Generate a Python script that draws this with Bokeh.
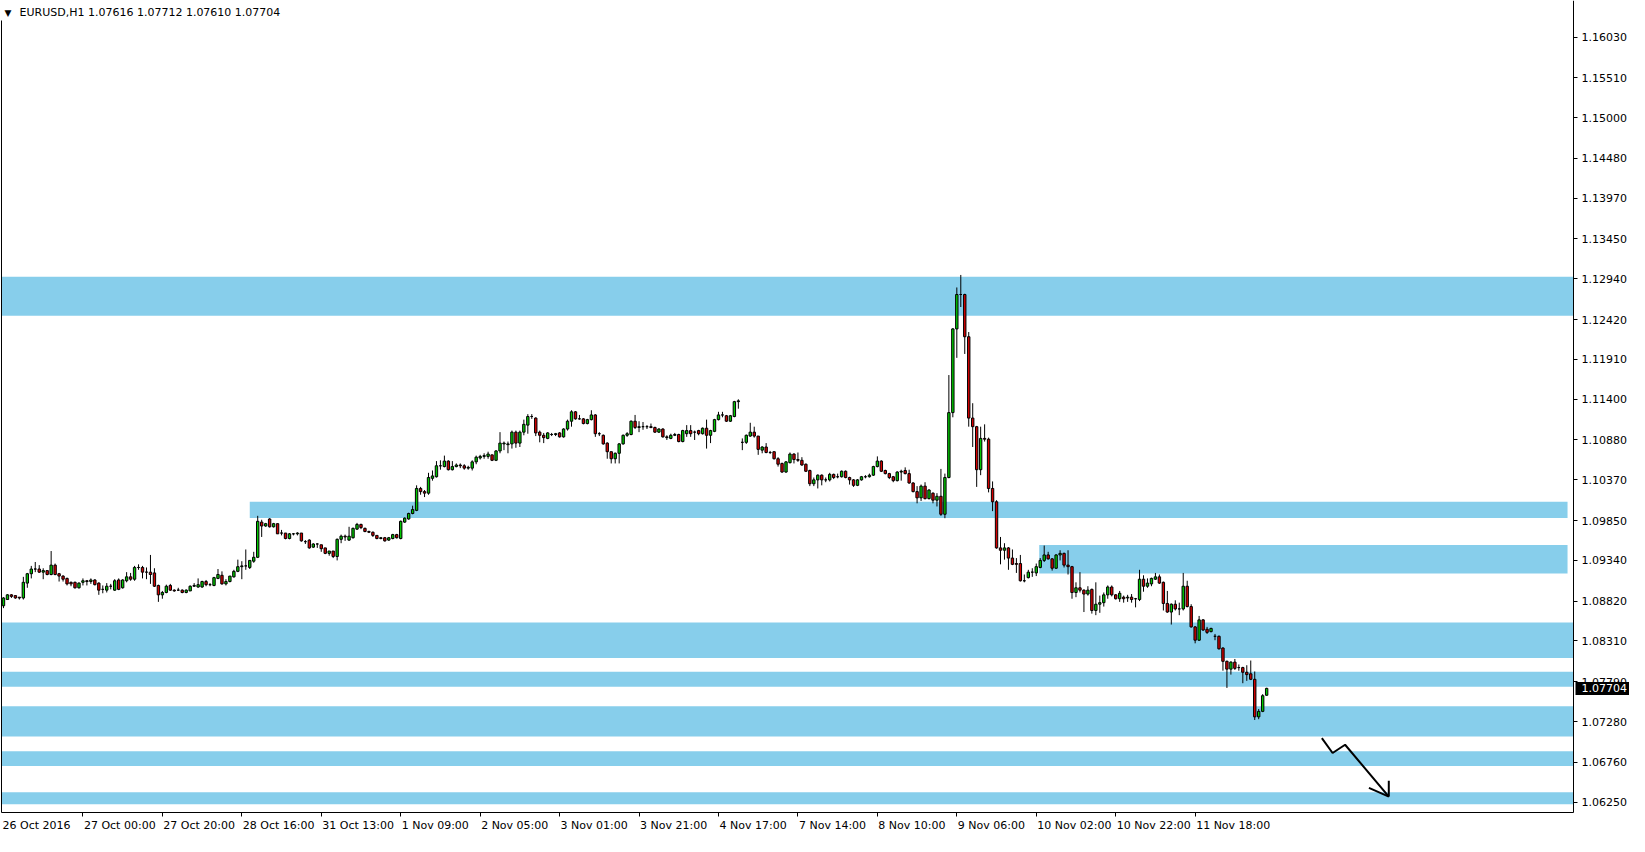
from bokeh.plotting import figure
from bokeh.models import (Range1d, FixedTicker, PrintfTickFormatter, Label, LinearAxis,
                          ColumnDataSource)
from bokeh.embed import file_html
from bokeh.resources import INLINE
from bokeh.core.properties import value

symbol = "EURUSD,H1"

opens = [
    1.0876, 1.0884, 1.0890, 1.0889, 1.0887, 1.0886, 1.0905, 1.0917, 1.0923, 1.0923,
    1.0919, 1.0921, 1.0916, 1.0928, 1.0917, 1.0914, 1.0911, 1.0906, 1.0906, 1.0899,
    1.0906, 1.0908, 1.0907, 1.0909, 1.0905, 1.0897, 1.0896, 1.0901, 1.0896, 1.0909,
    1.0899, 1.0908, 1.0913, 1.0910, 1.0925, 1.0925, 1.0919, 1.0919, 1.0918, 1.0902,
    1.0890, 1.0893, 1.0902, 1.0896, 1.0896, 1.0896, 1.0893, 1.0895, 1.0901, 1.0900,
    1.0900, 1.0907, 1.0903, 1.0902, 1.0911, 1.0915, 1.0904, 1.0907, 1.0913, 1.0920,
    1.0926, 1.0927, 1.0925, 1.0933, 1.0938, 1.0983, 1.0978, 1.0987, 1.0977, 1.0981,
    1.0969, 1.0969, 1.0962, 1.0968, 1.0968, 1.0969, 1.0958, 1.0960, 1.0951, 1.0955,
    1.0954, 1.0950, 1.0943, 1.0946, 1.0939, 1.0961, 1.0965, 1.0960, 1.0963, 1.0974,
    1.0980, 1.0975, 1.0971, 1.0970, 1.0966, 1.0962, 1.0963, 1.0960, 1.0962, 1.0967,
    1.0962, 1.0983, 1.0987, 1.0994, 1.0998, 1.1026, 1.1022, 1.1020, 1.1039, 1.1041,
    1.1055, 1.1054, 1.1061, 1.1050, 1.1054, 1.1056, 1.1055, 1.1052, 1.1052, 1.1060,
    1.1065, 1.1067, 1.1067, 1.1069, 1.1062, 1.1074, 1.1083, 1.1082, 1.1083, 1.1098,
    1.1084, 1.1098, 1.1107, 1.1118, 1.1116, 1.1098, 1.1094, 1.1090, 1.1095, 1.1095,
    1.1097, 1.1092, 1.1102, 1.1112, 1.1124, 1.1115, 1.1115, 1.1109, 1.1114, 1.1120,
    1.1096, 1.1094, 1.1084, 1.1073, 1.1064, 1.1071, 1.1083, 1.1094, 1.1095, 1.1112,
    1.1104, 1.1105, 1.1105, 1.1105, 1.1104, 1.1098, 1.1102, 1.1092, 1.1090, 1.1094,
    1.1095, 1.1086, 1.1096, 1.1100, 1.1098, 1.1100, 1.1096, 1.1103, 1.1094, 1.1099,
    1.1114, 1.1120, 1.1119, 1.1112, 1.1118, 1.1137, 1.1085, 1.1085, 1.1093, 1.1098,
    1.1093, 1.1075, 1.1079, 1.1072, 1.1073, 1.1064, 1.1058, 1.1047, 1.1059, 1.1070,
    1.1063, 1.1062, 1.1057, 1.1049, 1.1032, 1.1037, 1.1043, 1.1037, 1.1037, 1.1044,
    1.1041, 1.1041, 1.1048, 1.1040, 1.1037, 1.1030, 1.1037, 1.1041, 1.1041, 1.1043,
    1.1054, 1.1061, 1.1049, 1.1045, 1.1041, 1.1036, 1.1047, 1.1049, 1.1045, 1.1033,
    1.1022, 1.1014, 1.1029, 1.1013, 1.1020, 1.1011, 1.1016, 1.0993, 1.1040, 1.1123,
    1.1230, 1.1274, 1.1274, 1.1220, 1.1116, 1.1105, 1.1050, 1.1090, 1.1089, 1.1026,
    1.1009, 1.0950, 1.0947, 1.0950, 1.0937, 1.0930, 1.0930, 1.0908, 1.0912, 1.0919,
    1.0918, 1.0925, 1.0934, 1.0941, 1.0936, 1.0924, 1.0941, 1.0943, 1.0928, 1.0926,
    1.0893, 1.0899, 1.0896, 1.0891, 1.0897, 1.0870, 1.0878, 1.0880, 1.0890, 1.0900,
    1.0890, 1.0885, 1.0887, 1.0886, 1.0887, 1.0885, 1.0884, 1.0910, 1.0901, 1.0904,
    1.0910, 1.0913, 1.0906, 1.0879, 1.0868, 1.0878, 1.0872, 1.0872, 1.0901, 1.0875,
    1.0849, 1.0832, 1.0858, 1.0846, 1.0843, 1.0837, 1.0837, 1.0822, 1.0805, 1.0795,
    1.0804, 1.0797, 1.0797, 1.0791, 1.0789, 1.0782, 1.0734, 1.0741, 1.07616,
]

highs = [
    1.0887, 1.0891, 1.0891, 1.0889, 1.0887, 1.0913, 1.0918, 1.0927, 1.0932, 1.0928,
    1.0924, 1.0921, 1.0946, 1.0930, 1.0918, 1.0915, 1.0912, 1.0907, 1.0907, 1.0906,
    1.0911, 1.0909, 1.0911, 1.0910, 1.0906, 1.0902, 1.0905, 1.0904, 1.0910, 1.0911,
    1.0910, 1.0919, 1.0918, 1.0927, 1.0929, 1.0927, 1.0925, 1.0941, 1.0924, 1.0903,
    1.0895, 1.0903, 1.0904, 1.0897, 1.0899, 1.0897, 1.0897, 1.0902, 1.0905, 1.0911,
    1.0908, 1.0909, 1.0905, 1.0913, 1.0923, 1.0920, 1.0910, 1.0914, 1.0922, 1.0935,
    1.0933, 1.0948, 1.0934, 1.0945, 1.0991, 1.0986, 1.0982, 1.0988, 1.0982, 1.0981,
    1.0973, 1.0969, 1.0969, 1.0969, 1.0970, 1.0969, 1.0960, 1.0961, 1.0956, 1.0956,
    1.0954, 1.0950, 1.0946, 1.0946, 1.0962, 1.0967, 1.0967, 1.0977, 1.0976, 1.0982,
    1.0981, 1.0976, 1.0972, 1.0971, 1.0966, 1.0964, 1.0964, 1.0964, 1.0968, 1.0968,
    1.0985, 1.0989, 1.0995, 1.1004, 1.1030, 1.1028, 1.1024, 1.1046, 1.1049, 1.1061,
    1.1062, 1.1068, 1.1062, 1.1061, 1.1058, 1.1058, 1.1057, 1.1055, 1.1062, 1.1068,
    1.1069, 1.1071, 1.1073, 1.1069, 1.1075, 1.1098, 1.1086, 1.1086, 1.1100, 1.1100,
    1.1100, 1.1114, 1.1121, 1.1121, 1.1117, 1.1100, 1.1097, 1.1098, 1.1097, 1.1097,
    1.1098, 1.1103, 1.1114, 1.1126, 1.1125, 1.1120, 1.1116, 1.1115, 1.1126, 1.1121,
    1.1098, 1.1095, 1.1085, 1.1073, 1.1072, 1.1084, 1.1095, 1.1098, 1.1113, 1.1120,
    1.1112, 1.1111, 1.1107, 1.1109, 1.1105, 1.1103, 1.1103, 1.1094, 1.1096, 1.1097,
    1.1096, 1.1101, 1.1107, 1.1107, 1.1100, 1.1101, 1.1104, 1.1114, 1.1101, 1.1115,
    1.1124, 1.1124, 1.1120, 1.1120, 1.1138, 1.1140, 1.1090, 1.1095, 1.1110, 1.1105,
    1.1093, 1.1080, 1.1084, 1.1074, 1.1073, 1.1066, 1.1059, 1.1061, 1.1072, 1.1071,
    1.1072, 1.1066, 1.1058, 1.1050, 1.1040, 1.1044, 1.1044, 1.1040, 1.1046, 1.1045,
    1.1045, 1.1049, 1.1049, 1.1041, 1.1038, 1.1038, 1.1042, 1.1043, 1.1045, 1.1055,
    1.1067, 1.1062, 1.1050, 1.1046, 1.1042, 1.1048, 1.1050, 1.1053, 1.1050, 1.1034,
    1.1029, 1.1031, 1.1034, 1.1025, 1.1021, 1.1020, 1.1051, 1.1045, 1.1171, 1.1231,
    1.1283, 1.1299, 1.1275, 1.1226, 1.1135, 1.1106, 1.1105, 1.1108, 1.1091, 1.1035,
    1.1011, 1.0964, 1.0956, 1.0951, 1.0948, 1.0937, 1.0941, 1.0916, 1.0922, 1.0924,
    1.0930, 1.0937, 1.0953, 1.0945, 1.0937, 1.0942, 1.0947, 1.0944, 1.0947, 1.0927,
    1.0906, 1.0919, 1.0897, 1.0901, 1.0898, 1.0906, 1.0889, 1.0893, 1.0902, 1.0902,
    1.0891, 1.0895, 1.0889, 1.0890, 1.0891, 1.0886, 1.0922, 1.0915, 1.0911, 1.0912,
    1.0918, 1.0916, 1.0907, 1.0895, 1.0879, 1.0883, 1.0880, 1.0918, 1.0908, 1.0878,
    1.0850, 1.0863, 1.0859, 1.0849, 1.0848, 1.0840, 1.0838, 1.0823, 1.0806, 1.0805,
    1.0808, 1.0801, 1.0798, 1.0800, 1.0806, 1.0792, 1.0744, 1.0763, 1.07712,
]

lows = [
    1.0873, 1.0884, 1.0886, 1.0885, 1.0884, 1.0884, 1.0899, 1.0911, 1.0919, 1.0918,
    1.0910, 1.0915, 1.0915, 1.0915, 1.0907, 1.0907, 1.0902, 1.0901, 1.0898, 1.0898,
    1.0902, 1.0902, 1.0904, 1.0902, 1.0890, 1.0892, 1.0893, 1.0897, 1.0895, 1.0896,
    1.0898, 1.0906, 1.0908, 1.0908, 1.0922, 1.0911, 1.0910, 1.0904, 1.0900, 1.0881,
    1.0885, 1.0892, 1.0895, 1.0894, 1.0895, 1.0892, 1.0892, 1.0895, 1.0900, 1.0899,
    1.0899, 1.0901, 1.0901, 1.0901, 1.0910, 1.0903, 1.0902, 1.0906, 1.0912, 1.0919,
    1.0910, 1.0922, 1.0923, 1.0931, 1.0937, 1.0964, 1.0977, 1.0976, 1.0976, 1.0968,
    1.0966, 1.0961, 1.0961, 1.0966, 1.0966, 1.0958, 1.0955, 1.0949, 1.0950, 1.0950,
    1.0945, 1.0942, 1.0940, 1.0937, 1.0934, 1.0956, 1.0959, 1.0959, 1.0962, 1.0973,
    1.0974, 1.0970, 1.0969, 1.0964, 1.0961, 1.0961, 1.0958, 1.0959, 1.0961, 1.0962,
    1.0961, 1.0982, 1.0986, 1.0993, 1.0997, 1.1018, 1.1015, 1.1018, 1.1036, 1.1040,
    1.1050, 1.1053, 1.1049, 1.1049, 1.1053, 1.1052, 1.1050, 1.1050, 1.1049, 1.1057,
    1.1063, 1.1064, 1.1064, 1.1061, 1.1061, 1.1071, 1.1075, 1.1071, 1.1077, 1.1078,
    1.1079, 1.1094, 1.1096, 1.1115, 1.1093, 1.1085, 1.1084, 1.1089, 1.1093, 1.1093,
    1.1091, 1.1091, 1.1100, 1.1105, 1.1114, 1.1114, 1.1108, 1.1108, 1.1113, 1.1092,
    1.1093, 1.1082, 1.1064, 1.1058, 1.1058, 1.1058, 1.1082, 1.1092, 1.1094, 1.1102,
    1.1098, 1.1101, 1.1102, 1.1103, 1.1097, 1.1097, 1.1091, 1.1088, 1.1089, 1.1093,
    1.1085, 1.1085, 1.1092, 1.1092, 1.1088, 1.1094, 1.1095, 1.1077, 1.1084, 1.1098,
    1.1113, 1.1117, 1.1111, 1.1111, 1.1117, 1.1128, 1.1075, 1.1083, 1.1092, 1.1091,
    1.1069, 1.1071, 1.1071, 1.1070, 1.1063, 1.1054, 1.1046, 1.1046, 1.1058, 1.1058,
    1.1060, 1.1055, 1.1047, 1.1029, 1.1029, 1.1026, 1.1030, 1.1034, 1.1035, 1.1038,
    1.1039, 1.1040, 1.1039, 1.1031, 1.1028, 1.1029, 1.1036, 1.1039, 1.1040, 1.1042,
    1.1053, 1.1047, 1.1044, 1.1038, 1.1034, 1.1035, 1.1036, 1.1044, 1.1032, 1.1021,
    1.1007, 1.1010, 1.1012, 1.1012, 1.1007, 1.1003, 1.0991, 1.0988, 1.1039, 1.1117,
    1.1193, 1.1258, 1.1198, 1.1105, 1.1079, 1.1028, 1.1043, 1.1086, 1.1021, 1.0997,
    1.0949, 1.0929, 1.0935, 1.0922, 1.0928, 1.0918, 1.0907, 1.0906, 1.0911, 1.0913,
    1.0914, 1.0924, 1.0932, 1.0935, 1.0921, 1.0923, 1.0934, 1.0925, 1.0916, 1.0885,
    1.0887, 1.0893, 1.0868, 1.0889, 1.0866, 1.0864, 1.0867, 1.0875, 1.0885, 1.0888,
    1.0884, 1.0881, 1.0880, 1.0881, 1.0880, 1.0874, 1.0882, 1.0894, 1.0899, 1.0901,
    1.0909, 1.0904, 1.0870, 1.0867, 1.0852, 1.0870, 1.0864, 1.0870, 1.0874, 1.0848,
    1.0828, 1.0831, 1.0844, 1.0840, 1.0842, 1.0832, 1.0820, 1.0793, 1.0771, 1.0788,
    1.0794, 1.0793, 1.0777, 1.0780, 1.0781, 1.0730, 1.0731, 1.0740, 1.07610,
]

closes = [
    1.0886, 1.0890, 1.0888, 1.0886, 1.0886, 1.0906, 1.0917, 1.0923, 1.0923, 1.0919,
    1.0921, 1.0916, 1.0928, 1.0916, 1.0914, 1.0910, 1.0904, 1.0904, 1.0899, 1.0905,
    1.0908, 1.0907, 1.0909, 1.0903, 1.0896, 1.0897, 1.0901, 1.0901, 1.0908, 1.0897,
    1.0909, 1.0913, 1.0910, 1.0925, 1.0925, 1.0919, 1.0919, 1.0916, 1.0901, 1.0890,
    1.0893, 1.0901, 1.0896, 1.0895, 1.0896, 1.0893, 1.0896, 1.0901, 1.0902, 1.0903,
    1.0907, 1.0903, 1.0903, 1.0912, 1.0916, 1.0904, 1.0907, 1.0914, 1.0920, 1.0926,
    1.0927, 1.0927, 1.0934, 1.0938, 1.0984, 1.0978, 1.0981, 1.0977, 1.0981, 1.0968,
    1.0969, 1.0962, 1.0968, 1.0968, 1.0969, 1.0959, 1.0958, 1.0950, 1.0955, 1.0955,
    1.0949, 1.0943, 1.0946, 1.0939, 1.0961, 1.0965, 1.0964, 1.0965, 1.0975, 1.0980,
    1.0976, 1.0971, 1.0970, 1.0966, 1.0962, 1.0963, 1.0959, 1.0963, 1.0967, 1.0963,
    1.0984, 1.0988, 1.0994, 1.0999, 1.1026, 1.1022, 1.1020, 1.1040, 1.1042, 1.1055,
    1.1055, 1.1061, 1.1050, 1.1054, 1.1056, 1.1055, 1.1052, 1.1053, 1.1060, 1.1066,
    1.1067, 1.1068, 1.1070, 1.1062, 1.1074, 1.1084, 1.1084, 1.1083, 1.1098, 1.1084,
    1.1098, 1.1108, 1.1118, 1.1118, 1.1097, 1.1094, 1.1091, 1.1097, 1.1095, 1.1096,
    1.1092, 1.1102, 1.1112, 1.1124, 1.1115, 1.1115, 1.1109, 1.1114, 1.1120, 1.1096,
    1.1096, 1.1083, 1.1073, 1.1064, 1.1071, 1.1083, 1.1094, 1.1096, 1.1112, 1.1104,
    1.1105, 1.1105, 1.1105, 1.1104, 1.1098, 1.1102, 1.1092, 1.1091, 1.1094, 1.1095,
    1.1086, 1.1100, 1.1100, 1.1096, 1.1098, 1.1096, 1.1103, 1.1094, 1.1100, 1.1114,
    1.1120, 1.1120, 1.1112, 1.1119, 1.1137, 1.1138, 1.1085, 1.1094, 1.1098, 1.1093,
    1.1076, 1.1079, 1.1072, 1.1072, 1.1064, 1.1057, 1.1047, 1.1060, 1.1070, 1.1063,
    1.1062, 1.1056, 1.1048, 1.1032, 1.1037, 1.1043, 1.1037, 1.1037, 1.1044, 1.1040,
    1.1041, 1.1048, 1.1040, 1.1037, 1.1030, 1.1037, 1.1041, 1.1041, 1.1043, 1.1054,
    1.1061, 1.1048, 1.1045, 1.1040, 1.1036, 1.1047, 1.1048, 1.1045, 1.1033, 1.1022,
    1.1014, 1.1029, 1.1013, 1.1024, 1.1011, 1.1016, 1.0993, 1.1040, 1.1123, 1.1230,
    1.1274, 1.1274, 1.1220, 1.1116, 1.1105, 1.1050, 1.1090, 1.1089, 1.1026, 1.1009,
    1.0950, 1.0947, 1.0950, 1.0937, 1.0929, 1.0929, 1.0908, 1.0908, 1.0919, 1.0919,
    1.0926, 1.0934, 1.0941, 1.0936, 1.0924, 1.0941, 1.0943, 1.0928, 1.0926, 1.0893,
    1.0899, 1.0896, 1.0891, 1.0896, 1.0870, 1.0878, 1.0880, 1.0890, 1.0900, 1.0890,
    1.0885, 1.0892, 1.0885, 1.0887, 1.0884, 1.0885, 1.0910, 1.0901, 1.0905, 1.0911,
    1.0913, 1.0905, 1.0879, 1.0868, 1.0878, 1.0872, 1.0872, 1.0901, 1.0875, 1.0849,
    1.0832, 1.0858, 1.0845, 1.0842, 1.0847, 1.0837, 1.0821, 1.0805, 1.0795, 1.0804,
    1.0796, 1.0797, 1.0791, 1.0788, 1.0782, 1.0734, 1.0741, 1.0761, 1.07704,
]

# price scale ticks (right axis)
price_ticks = [1.16030, 1.15510, 1.15000, 1.14480, 1.13970, 1.13450, 1.12940, 1.12420,
               1.11910, 1.11400, 1.10880, 1.10370, 1.09850, 1.09340, 1.08820, 1.08310,
               1.07790, 1.07280, 1.06760, 1.06250]

# time scale: bar index of each label
time_tick_bars = [0, 20, 40, 60, 80, 100, 120, 140, 160, 180, 200, 220, 240, 260, 280, 300]
time_tick_labels = ["26 Oct 2016", "27 Oct 00:00", "27 Oct 20:00", "28 Oct 16:00", "31 Oct 13:00",
                    "1 Nov 09:00", "2 Nov 05:00", "3 Nov 01:00", "3 Nov 21:00", "4 Nov 17:00",
                    "7 Nov 14:00", "8 Nov 10:00", "9 Nov 06:00", "10 Nov 02:00", "10 Nov 22:00",
                    "11 Nov 18:00"]

# support / resistance zones (price bands; start/end in bar units)
zone_top = [1.12968, 1.10091, 1.09538, 1.08545, 1.07917, 1.07477, 1.06900, 1.06376]
zone_bottom = [1.12469, 1.09881, 1.09174, 1.08093, 1.07725, 1.07088, 1.06711, 1.06221]
zone_start_bar = [-0.5, 62.0, 260.75, -0.5, -0.5, -0.5, -0.5, -0.5]
zone_end_bar = [395.25, 393.75, 393.75, 395.25, 395.25, 395.25, 395.25, 395.25]

# hand-drawn projection arrow
arrow_bar = [331.9, 334.6, 337.75, 348.75]
arrow_price = [1.07067, 1.06878, 1.06983, 1.06321]
arrow_head_bar = [348.75, 343.75]
arrow_head_price = [1.06523, 1.06431]

# ---------------- layout ----------------
FONT = "DejaVu Sans"
FIG_W, FIG_H = 1629, 836
LEFT_PAD, RIGHT_PAD, TOP_PAD, BOTTOM_PAD = 1, 56, 0, 24        # pixels around the chart box
CHART_X0, CHART_X1 = -0.5, 395.25                              # visible bar span
CHART_Y0, CHART_Y1 = 1.06117, 1.16499                          # visible price span

bar_px = (FIG_W - LEFT_PAD - RIGHT_PAD) / (CHART_X1 - CHART_X0)
price_px = (FIG_H - TOP_PAD - BOTTOM_PAD) / (CHART_Y1 - CHART_Y0)
X_LO, X_HI = CHART_X0 - LEFT_PAD / bar_px, CHART_X1 + RIGHT_PAD / bar_px
Y_LO, Y_HI = CHART_Y0 - BOTTOM_PAD / price_px, CHART_Y1 + TOP_PAD / price_px

# approximate DejaVu Sans advance widths (em) to left-align time labels at their ticks
CHAR_EM = {**{d: 0.636 for d in "0123456789"}, " ": 0.318, ":": 0.337, "O": 0.787,
           "c": 0.550, "t": 0.392, "N": 0.748, "o": 0.612, "v": 0.592}


def text_width(s, size=11):
    return sum(CHAR_EM.get(ch, 0.6) for ch in s) * size


bars = list(range(len(closes)))
body_top = [max(o, c) for o, c in zip(opens, closes)]
body_bot = [min(o, c) for o, c in zip(opens, closes)]
body_col = ["#00C800" if c > o else ("#D40000" if c < o else "black") for o, c in zip(opens, closes)]

p = figure(width=FIG_W, height=FIG_H, x_range=Range1d(X_LO, X_HI), y_range=Range1d(Y_LO, Y_HI),
           output_backend="svg", toolbar_location=None, x_axis_location=None, y_axis_location=None,
           min_border=0, min_border_left=0, min_border_right=0, min_border_top=0, min_border_bottom=0,
           background_fill_color="white", border_fill_color="white", outline_line_color=None)
p.grid.visible = False

# zones
p.quad(left=zone_start_bar, right=zone_end_bar, top=zone_top, bottom=zone_bottom,
       fill_color="#87CEEB", line_color=None)

# left border of the chart window (hidden behind the header at the top)
p.line([CHART_X0, CHART_X0], [CHART_Y0, CHART_Y1 - 20 / price_px], line_color="black", line_width=1)

# candles
src = ColumnDataSource(dict(x=bars, o=opens, h=highs, l=lows, c=closes,
                            top=body_top, bot=body_bot, col=body_col))
p.segment(x0="x", y0="l", x1="x", y1="h", source=src, line_color="black", line_width=1)
p.vbar(x="x", width=0.6, top="top", bottom="bot", source=src,
       fill_color="col", line_color="black", line_width=1)

# arrow
p.line(arrow_bar, arrow_price, line_color="black", line_width=2)
p.segment(x0=[arrow_bar[-1]] * 2, y0=[arrow_price[-1]] * 2, x1=arrow_head_bar, y1=arrow_head_price,
          line_color="black", line_width=2)

# right price axis (at the chart's right border)
ya = LinearAxis(fixed_location=CHART_X1, bounds=(CHART_Y0, CHART_Y1),
                ticker=FixedTicker(ticks=price_ticks), formatter=PrintfTickFormatter(format="%.5f"),
                major_tick_out=4, major_tick_in=0, minor_tick_line_color=None,
                axis_line_color="black", major_tick_line_color="black", major_label_standoff=4,
                major_label_text_font=FONT, major_label_text_font_size="11px",
                major_label_text_color="black")
p.add_layout(ya, "right")

# bottom time axis: tick marks at the bars ...
xa = LinearAxis(fixed_location=CHART_Y0, bounds=(CHART_X0, CHART_X1),
                ticker=FixedTicker(ticks=time_tick_bars[1:]),
                major_tick_out=4, major_tick_in=0, minor_tick_line_color=None,
                axis_line_color="black", major_tick_line_color="black",
                major_label_text_color=None, major_label_text_font_size="11px")
p.add_layout(xa, "below")

# ... and the labels, left-aligned at each tick like MetaTrader
label_pos = []
for b, lab in zip(time_tick_bars, time_tick_labels):
    start = CHART_X0 if b == 0 else b
    label_pos.append(round(start + (1 + text_width(lab) / 2) / bar_px, 4))
xl = LinearAxis(fixed_location=CHART_Y0, ticker=FixedTicker(ticks=label_pos),
                major_label_overrides={pos: lab for pos, lab in zip(label_pos, time_tick_labels)},
                axis_line_color=None, major_tick_line_color=None, minor_tick_line_color=None,
                major_tick_out=0, major_tick_in=0, major_label_standoff=6,
                major_label_text_font=FONT, major_label_text_font_size="11px",
                major_label_text_color="black")
p.add_layout(xl, "below")

# header
p.add_layout(Label(x=CHART_X0, y=CHART_Y1, x_offset=3, y_offset=-12, text="\u25BC",
                   text_font=FONT, text_font_size="9px", text_baseline="middle",
                   text_color="black"))
header = f"{symbol}  {opens[-1]:.5f} {highs[-1]:.5f} {lows[-1]:.5f} {closes[-1]:.5f}"
p.add_layout(Label(x=CHART_X0, y=CHART_Y1, x_offset=18, y_offset=-12, text=header,
                   text_font=FONT, text_font_size="11px", text_baseline="middle",
                   text_color="black"))

# current price marker on the price scale
half_h = 6.5 / price_px
p.quad(left=[CHART_X1 + 2 / bar_px], right=[X_HI], top=[closes[-1] + half_h],
       bottom=[closes[-1] - half_h], fill_color="black", line_color=None, level="overlay")
p.text(x=[CHART_X1 + 8 / bar_px], y=[closes[-1]], text=[f"{closes[-1]:.5f}"],
       text_color="white", text_font=value(FONT), text_font_size="11px",
       text_baseline="middle", text_align="left", level="overlay")

open("out.html", "w").write(file_html(p, INLINE))
